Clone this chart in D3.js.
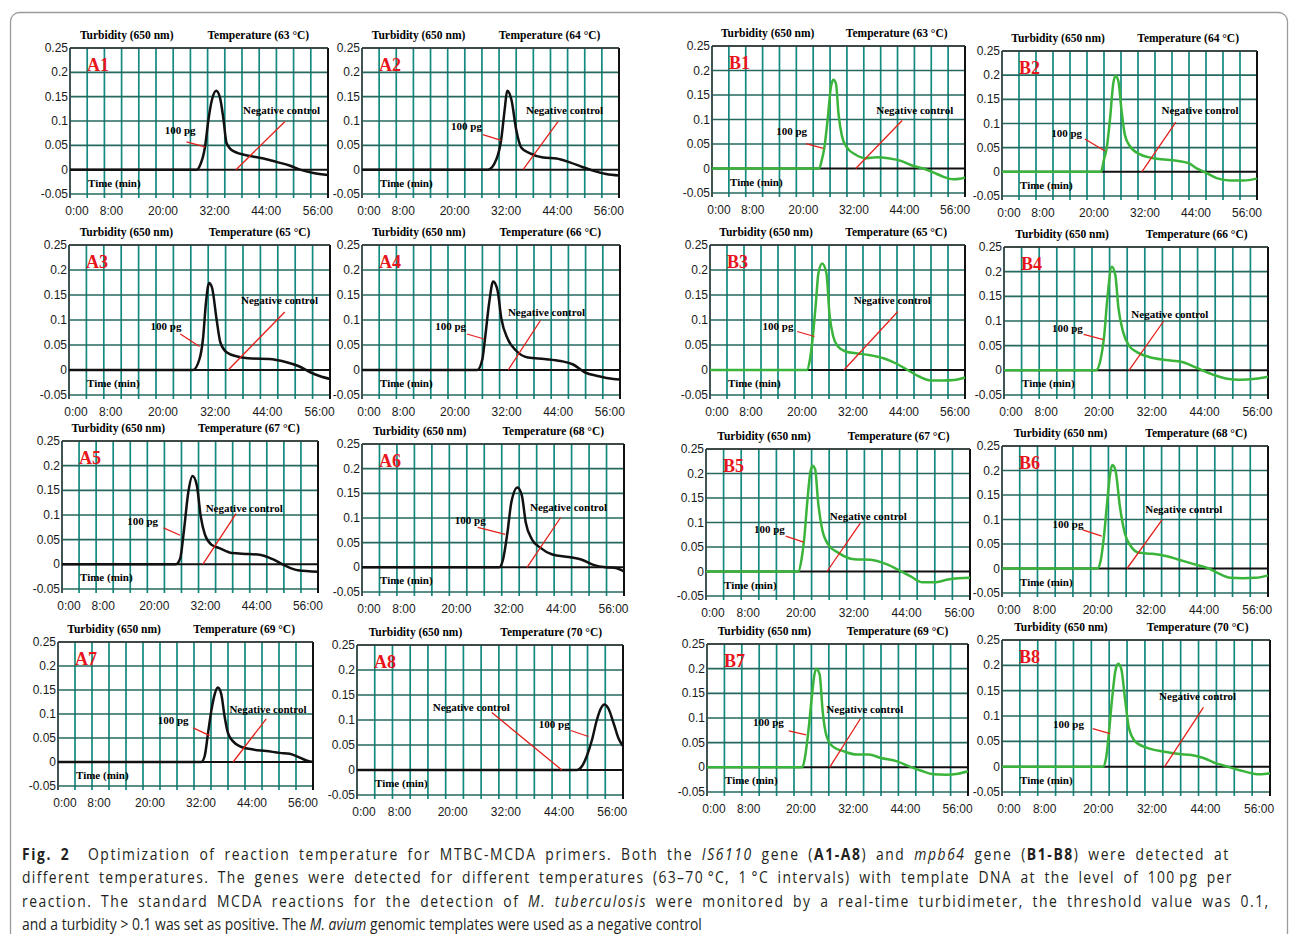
<!DOCTYPE html>
<html>
<head>
<meta charset="utf-8">
<script src="https://cdn.jsdelivr.net/npm/d3@7"></script>
<style>
  body { margin: 0; background: #fff; }
  svg { display: block; }
  .bold-serif { font-family: "Liberation Serif", "Times New Roman", serif; font-weight: bold; }
  .tick-label { font-family: "Liberation Sans", Arial, sans-serif; font-size: 12px; fill: #1a1a1a; }
  .caption { font-family: "Open Sans", "Noto Sans", sans-serif; font-size: 15.5px; fill: #231f20; }
</style>
</head>
<body>
<div id="graph"></div>
<script>
(function() {

    var width = 1293,
        height = 934;

    // axis ticks
    var timeTicks = [0, 8, 20, 32, 44, 56];
    var timeTickLabels = ['0:00', '8:00', '20:00', '32:00', '44:00', '56:00'];
    var turbidityTicks = [-0.05, 0, 0.05, 0.1, 0.15, 0.2, 0.25];
    var turbidityTickLabels = ['-0.05', '0', '0.05', '0.1', '0.15', '0.2', '0.25'];

    var panelIds = ['A1', 'A2', 'A3', 'A4', 'A5', 'A6', 'A7', 'A8',
                    'B1', 'B2', 'B3', 'B4', 'B5', 'B6', 'B7', 'B8'];
    var temperatures = [63, 64, 65, 66, 67, 68, 69, 70];

    // negative control stays flat on zero
    var negativeControl = [[0, 0], [60, 0]];

    // 100 pg turbidity curves, [time (min), turbidity]
    var curveA1 = [[0, 0], [29.5, 0], [30.2, 0.008], [31.4, 0.047], [32.2, 0.103], [33, 0.143], [34, 0.162], [34.9, 0.147], [35.7, 0.103], [36.4, 0.055], [38, 0.038], [41.9, 0.028], [45, 0.023], [48, 0.016], [51.2, 0.008], [53.5, 0], [56.6, -0.007], [60, -0.011]];
    var curveA2 = [[0, 0], [29.4, 0], [31.4, 0.022], [32.5, 0.062], [33.3, 0.123], [33.9, 0.162], [34.9, 0.143], [36, 0.082], [37.2, 0.045], [39.1, 0.034], [42.3, 0.025], [45.4, 0.023], [48.5, 0.015], [51.6, 0.005], [53.9, -0.002], [57, -0.009], [60, -0.012]];
    var curveA3 = [[0, 0], [28.5, 0], [30, 0.022], [30.8, 0.062], [31.5, 0.136], [32.2, 0.174], [32.9, 0.164], [33.9, 0.103], [34.8, 0.055], [36.3, 0.035], [38.7, 0.027], [42.1, 0.023], [46, 0.022], [49.8, 0.016], [52.7, 0.008], [55.6, -0.005], [57.6, -0.012], [60, -0.018]];
    var curveA4 = [[0, 0], [26.8, 0], [28, 0.022], [28.6, 0.062], [29.6, 0.136], [30.5, 0.177], [31.5, 0.16], [32.4, 0.103], [33.9, 0.062], [35.8, 0.039], [38.6, 0.025], [42.4, 0.022], [46.2, 0.018], [49.1, 0.011], [51.9, -0.005], [54.8, -0.012], [58.5, -0.018], [60, -0.019]];
    var curveA5 = [[0, 0], [26.7, 0], [27.7, 0.012], [28.6, 0.07], [29.6, 0.146], [30.6, 0.179], [31.6, 0.16], [32.5, 0.098], [33.5, 0.06], [35, 0.04], [36.9, 0.033], [39.8, 0.023], [43.7, 0.021], [46.6, 0.019], [49.5, 0.01], [52.4, -0.003], [55.3, -0.012], [60, -0.015]];
    var curveA6 = [[0, 0], [31.4, 0], [32.3, 0.016], [33.3, 0.07], [34.2, 0.132], [35.6, 0.162], [36.6, 0.146], [37.5, 0.091], [38.9, 0.057], [40.8, 0.04], [43.6, 0.026], [47.3, 0.021], [50.2, 0.016], [53, 0.005], [55.8, 0], [57.7, -0.001], [60, -0.008]];
    var curveA7 = [[0, 0], [33.7, 0], [34.5, 0.012], [35.3, 0.06], [36.1, 0.108], [36.9, 0.142], [37.6, 0.155], [38.4, 0.142], [39.2, 0.095], [40, 0.06], [41.2, 0.043], [42.7, 0.033], [45.9, 0.026], [49, 0.023], [52.2, 0.019], [54.5, 0.017], [56.9, 0.009], [58.8, 0.002], [60, 0]];
    var curveA8 = [[0, 0], [49.6, 0], [50.7, 0.007], [51.8, 0.027], [53, 0.06], [54.1, 0.1], [55, 0.123], [55.8, 0.131], [56.7, 0.123], [57.9, 0.093], [59, 0.063], [60, 0.048]];
    var curveB1 = [[0, 0], [25.4, 0], [26, 0.016], [26.6, 0.04], [27.4, 0.098], [28.2, 0.166], [28.8, 0.181], [29.4, 0.173], [30, 0.112], [30.8, 0.067], [32, 0.043], [33.9, 0.029], [36.3, 0.021], [39.1, 0.023], [41.8, 0.021], [44.6, 0.016], [47.8, 0.005], [50.1, 0], [52.5, -0.008], [54.9, -0.017], [57.2, -0.022], [58.8, -0.021], [60, -0.018]];
    var curveB2 = [[0, 0], [23.3, 0], [24, 0.026], [24.6, 0.047], [25.4, 0.108], [26.2, 0.184], [26.7, 0.199], [27.4, 0.187], [28.1, 0.129], [28.9, 0.077], [30.1, 0.053], [32.5, 0.036], [36.4, 0.027], [41.1, 0.023], [43.9, 0.018], [45.8, 0.007], [47.8, -0.001], [50.5, -0.013], [53.7, -0.018], [56.8, -0.018], [60, -0.014]];
    var curveB3 = [[0, 0], [22.8, 0], [23.5, 0.02], [24.2, 0.067], [24.9, 0.133], [25.5, 0.193], [26.4, 0.213], [27.4, 0.193], [28.1, 0.113], [29, 0.067], [30.1, 0.047], [31.9, 0.037], [34.7, 0.033], [37.4, 0.03], [41, 0.023], [43.8, 0.013], [46.5, 0], [49.2, -0.013], [52, -0.021], [54.7, -0.021], [57.4, -0.02], [60, -0.015]];
    var curveB4 = [[0, 0], [20.9, 0], [21.9, 0.02], [22.8, 0.073], [23.5, 0.147], [24.5, 0.21], [25.3, 0.193], [26, 0.127], [27, 0.08], [28.4, 0.05], [30.2, 0.037], [33, 0.027], [36.7, 0.021], [40.5, 0.017], [43.3, 0.007], [45.1, 0], [47.9, -0.01], [50.7, -0.017], [53.5, -0.019], [57.2, -0.017], [60, -0.013]];
    var curveB5 = [[0, 0], [21, 0], [21.7, 0.024], [22.3, 0.065], [23, 0.14], [23.7, 0.202], [24.2, 0.216], [24.8, 0.209], [25.5, 0.14], [26.4, 0.086], [27.8, 0.055], [30.1, 0.038], [33.7, 0.025], [37.4, 0.024], [41, 0.015], [43.8, 0.003], [46.5, -0.01], [49.2, -0.022], [52, -0.022], [54.7, -0.017], [57.4, -0.014], [60, -0.013]];
    var curveB6 = [[0, 0], [21.5, 0], [22.3, 0.018], [23, 0.066], [23.7, 0.133], [24.4, 0.194], [24.9, 0.211], [25.6, 0.2], [26.6, 0.126], [27.7, 0.072], [29.1, 0.045], [31, 0.032], [33.9, 0.03], [37.2, 0.025], [41, 0.015], [44.8, 0.005], [46.7, 0], [48.6, -0.009], [51.5, -0.019], [54.3, -0.02], [57.2, -0.019], [60, -0.014]];
    var curveB7 = [[0, 0], [21.9, 0], [22.5, 0.019], [23.3, 0.073], [24, 0.134], [24.7, 0.188], [25.1, 0.2], [25.9, 0.188], [26.6, 0.113], [27.4, 0.066], [28.8, 0.043], [31.6, 0.032], [34.4, 0.026], [37.2, 0.026], [40, 0.019], [43.7, 0.012], [46.5, 0.002], [49.3, -0.007], [52.1, -0.014], [54.9, -0.015], [57.7, -0.013], [60, -0.008]];
    var curveB8 = [[0, 0], [22.6, 0], [23.3, 0.017], [23.9, 0.063], [24.6, 0.13], [25.4, 0.19], [26, 0.203], [26.7, 0.193], [27.5, 0.137], [28.4, 0.077], [29.8, 0.05], [32.5, 0.037], [36.1, 0.03], [39.7, 0.025], [42.4, 0.023], [45.1, 0.017], [47.8, 0.007], [50.5, 0], [53.2, -0.007], [55.9, -0.013], [57.7, -0.015], [60, -0.013]];

    var curves = {
        A1: curveA1, A2: curveA2, A3: curveA3, A4: curveA4,
        A5: curveA5, A6: curveA6, A7: curveA7, A8: curveA8,
        B1: curveB1, B2: curveB2, B3: curveB3, B4: curveB4,
        B5: curveB5, B6: curveB6, B7: curveB7, B8: curveB8
    };

    // callouts in data units: [label t, label v, leader from t, v, leader to t, v]
    var pgNotes = {
        A1: [25.6, 0.082, 27.1, 0.057, 31.4, 0.047], A2: [24.4, 0.089, 28.2, 0.072, 32.5, 0.06],
        A3: [22.3, 0.089, 25.6, 0.072, 30, 0.047],   A4: [20.6, 0.088, 24.4, 0.072, 28.4, 0.062],
        A5: [18.9, 0.088, 23.8, 0.074, 27.7, 0.059], A6: [24.8, 0.095, 26.5, 0.081, 32.8, 0.067],
        A7: [27.1, 0.087, 31.8, 0.071, 35.7, 0.055], A8: [44.5, 0.093, 48.2, 0.079, 52.2, 0.067],
        B1: [18.9, 0.077, 22.3, 0.051, 26.4, 0.041], B2: [15.2, 0.081, 19.5, 0.068, 24.2, 0.043],
        B3: [16, 0.089, 20.5, 0.077, 24.6, 0.067],   B4: [14.4, 0.085, 18.1, 0.073, 22.6, 0.062],
        B5: [14.4, 0.087, 18.1, 0.072, 22.2, 0.06],  B6: [14.9, 0.091, 18.2, 0.079, 22.5, 0.066],
        B7: [14.1, 0.092, 18.8, 0.074, 22.8, 0.066], B8: [14.9, 0.085, 20.3, 0.075, 24.2, 0.065]
    };
    var negNotes = {
        A1: [49.2, 0.123, 50, 0.099, 38.6, 0],   A2: [47.3, 0.122, 45.8, 0.099, 37.6, 0],
        A3: [48.4, 0.141, 49.6, 0.116, 36.6, 0], A4: [42.9, 0.116, 41.5, 0.099, 34, 0],
        A5: [42.7, 0.115, 40.8, 0.103, 33, 0],   A6: [47.3, 0.122, 45.5, 0.101, 37.8, 0],
        A7: [49.4, 0.111, 49, 0.09, 41.2, 0],    A8: [25.8, 0.127, 30.4, 0.115, 46.2, 0],
        B1: [48.1, 0.12, 45.1, 0.098, 34.1, 0],  B2: [46.6, 0.127, 40.9, 0.103, 32.9, 0],
        B3: [42.9, 0.14, 44.2, 0.117, 31.5, 0],  B4: [37.7, 0.115, 36.3, 0.1, 28.4, 0],
        B5: [36.9, 0.114, 35.1, 0.099, 27.5, 0], B6: [41, 0.121, 36.1, 0.099, 28.2, 0],
        B7: [36.3, 0.118, 35.3, 0.099, 28.2, 0], B8: [43.8, 0.14, 45.1, 0.117, 36.4, 0]
    };

    // plot area of each small chart: left, top, right, bottom
    var boxes = {
        A1: [70, 48, 328, 194],   A2: [362, 48, 619, 194],  B1: [712, 46, 965, 193],   B2: [1002, 51, 1257, 196],
        A3: [69, 245, 330, 395],  A4: [362, 245, 620, 395], B3: [710, 245, 965, 395],  B4: [1004, 247, 1268, 395],
        A5: [62, 441, 318, 589],  A6: [362, 444, 624, 592], B5: [706, 449, 970, 596],  B6: [1002, 446, 1268, 593],
        A7: [58, 642, 313, 786],  A8: [357, 645, 623, 795], B7: [707, 644, 968, 792],  B8: [1002, 640, 1270, 792]
    };

    var svg = d3.select('#graph')
        .append('svg')
        .attr('width', width)
        .attr('height', height);

    // outer frame
    svg.append('rect')
        .attr('x', 10.5).attr('y', 12.5)
        .attr('width', 1277).attr('height', 935)
        .attr('rx', 9)
        .attr('fill', 'none')
        .attr('stroke', '#9a9a9a')
        .attr('stroke-width', 1.3);

    var gridTimes = d3.range(0, 61, 4);

    function drawPanel(id) {
        var box = boxes[id],
            L = box[0], T = box[1], R = box[2], B = box[3];
        var isB = id.charAt(0) === 'B';
        var temp = temperatures[+id.charAt(1) - 1];

        var x = d3.scaleLinear().domain([0, 60]).range([L, R]);
        var y = d3.scaleLinear().domain([-0.05, 0.25]).range([B, T]);

        var g = svg.append('g').attr('class', 'panel');

        // grid
        g.selectAll('.vgrid')
            .data(gridTimes)
            .enter()
            .append('line')
            .attr('x1', function(d) { return x(d); })
            .attr('x2', function(d) { return x(d); })
            .attr('y1', T)
            .attr('y2', B + 4)
            .attr('stroke', '#128a7f')
            .attr('stroke-width', 1.7);

        g.selectAll('.hgrid')
            .data(turbidityTicks.filter(function(d) { return d !== 0; }))
            .enter()
            .append('line')
            .attr('x1', L)
            .attr('x2', R)
            .attr('y1', function(d) { return y(d); })
            .attr('y2', function(d) { return y(d); })
            .attr('stroke', '#25685f')
            .attr('stroke-width', 1.7);

        g.append('line')
            .attr('x1', L).attr('x2', L).attr('y1', T).attr('y2', B + 4)
            .attr('stroke', '#444').attr('stroke-width', 1.6);
        g.append('line')
            .attr('x1', R).attr('x2', R).attr('y1', T).attr('y2', B + 4)
            .attr('stroke', '#111').attr('stroke-width', 2);
        g.append('line')
            .attr('x1', L).attr('x2', R).attr('y1', T).attr('y2', T)
            .attr('stroke', '#333').attr('stroke-width', 1.6);

        var line = d3.line()
            .x(function(d) { return x(d[0]); })
            .y(function(d) { return y(d[1]); })
            .curve(d3.curveMonotoneX);

        // negative control (flat) and 100 pg curve
        g.append('path')
            .datum(negativeControl)
            .attr('d', line)
            .attr('fill', 'none')
            .attr('stroke', '#111')
            .attr('stroke-width', 2);

        g.append('path')
            .datum(curves[id])
            .attr('d', line)
            .attr('fill', 'none')
            .attr('stroke', isB ? '#3ab43a' : '#111')
            .attr('stroke-width', 2.5)
            .attr('stroke-linejoin', 'round');

        // tick labels
        g.selectAll('.ylab')
            .data(turbidityTicks)
            .enter()
            .append('text')
            .attr('class', 'tick-label')
            .attr('x', L - 2)
            .attr('y', function(d) { return y(d) + 4; })
            .attr('text-anchor', 'end')
            .text(function(d, i) { return turbidityTickLabels[i]; });

        g.selectAll('.xlab')
            .data(timeTicks)
            .enter()
            .append('text')
            .attr('class', 'tick-label')
            .attr('x', function(d) { return x(d) + 7; })
            .attr('y', B + 21)
            .attr('text-anchor', 'middle')
            .text(function(d, i) { return timeTickLabels[i]; });

        // headings
        g.append('text')
            .attr('class', 'bold-serif')
            .attr('x', L + (R - L) * 0.22)
            .attr('y', T - 9)
            .attr('text-anchor', 'middle')
            .attr('font-size', 11.5)
            .text('Turbidity (650 nm)');

        g.append('text')
            .attr('class', 'bold-serif')
            .attr('x', L + (R - L) * 0.73)
            .attr('y', T - 9)
            .attr('text-anchor', 'middle')
            .attr('font-size', 11.5)
            .text('Temperature (' + temp + ' \u00b0C)');

        g.append('text')
            .attr('class', 'bold-serif')
            .attr('x', L + 17)
            .attr('y', T + 23)
            .attr('font-size', 18)
            .attr('fill', '#e8161c')
            .text(id);

        g.append('text')
            .attr('class', 'bold-serif')
            .attr('x', L + 18)
            .attr('y', y(0) + 17)
            .attr('font-size', 11)
            .text('Time (min)');

        // callouts
        [[pgNotes[id], '100 pg'], [negNotes[id], 'Negative control']].forEach(function(n) {
            var a = n[0];
            g.append('line')
                .attr('x1', x(a[2])).attr('y1', y(a[3]))
                .attr('x2', x(a[4])).attr('y2', y(a[5]))
                .attr('stroke', '#e3201b')
                .attr('stroke-width', 1.3);
            g.append('text')
                .attr('class', 'bold-serif')
                .attr('x', x(a[0]))
                .attr('y', y(a[1]) + 4)
                .attr('text-anchor', 'middle')
                .attr('font-size', 11)
                .text(n[1]);
        });
    }

    panelIds.forEach(drawPanel);

    // caption: narrowed sans, first three lines justified
    var captionLines = [
        [['Fig. 2', 'b'], ['  Optimization of reaction temperature for MTBC-MCDA primers. Both the ', ''], ['IS6110', 'i'], [' gene (', ''], ['A1-A8', 'b'], [') and ', ''], ['mpb64', 'i'], [' gene (', ''], ['B1-B8', 'b'], [') were detected at', '']],
        [['different temperatures. The genes were detected for different temperatures (63\u201370\u2009\u00b0C, 1\u2009\u00b0C intervals) with template DNA at the level of 100\u2009pg per', '']],
        [['reaction. The standard MCDA reactions for the detection of ', ''], ['M. tuberculosis', 'i'], [' were monitored by a real-time turbidimeter, the threshold value was 0.1,', '']],
        [['and a turbidity > 0.1 was set as positive. The ', ''], ['M. avium', 'i'], [' genomic templates were used as a negative control', '']]
    ];
    var captionRight = [1230, 1233, 1270, 702];
    var captionLeft = 22;

    var captionTexts = captionLines.map(function(parts) {
        var t = svg.append('text')
            .attr('class', 'caption')
            .attr('x', 0)
            .attr('y', 0)
            .style('white-space', 'pre');
        parts.forEach(function(p) {
            t.append('tspan')
                .attr('font-weight', p[1] === 'b' ? 'bold' : null)
                .attr('font-style', p[1] === 'i' ? 'italic' : null)
                .text(p[0]);
        });
        return t;
    });

    var lastNatural = captionTexts[3].node().getComputedTextLength();
    var squeeze = (captionRight[3] - captionLeft) / lastNatural;

    captionTexts.forEach(function(t, i) {
        var natural = t.node().getComputedTextLength();
        var target = (captionRight[i] - captionLeft) / squeeze;
        var str = t.text();
        var spaces = str.split(' ').length - 1;
        if (i < 3 && target > natural) {
            var extra = target - natural;
            var ws = Math.min(extra / spaces, 4);
            var ls = (extra - ws * spaces) / str.length;
            t.attr('word-spacing', ws).attr('letter-spacing', ls);
        }
        t.attr('transform', 'translate(' + captionLeft + ',' + (860 + i * 23.4) + ') scale(' + squeeze + ',1)');
    });

})();
</script>
</body>
</html>
